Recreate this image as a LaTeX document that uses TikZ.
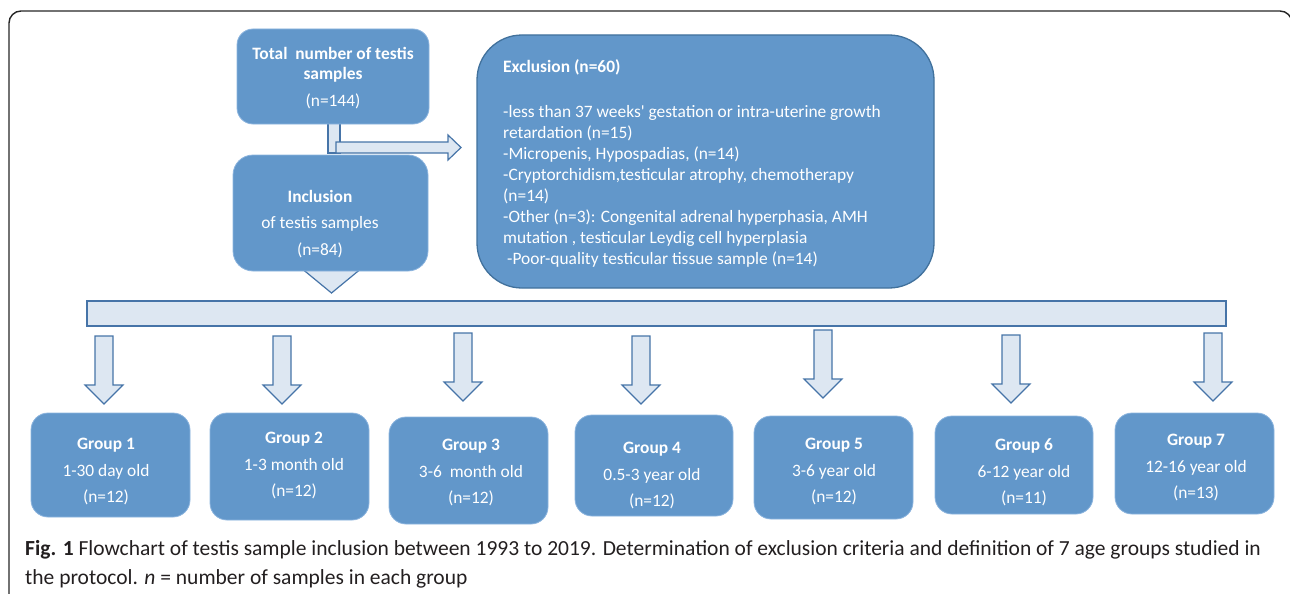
\documentclass[tikz,border=0pt]{standalone}
\usepackage{fontspec}
\newfontfamily\carl{Carlito}
\usetikzlibrary{backgrounds}
\definecolor{boxblue}{RGB}{98,151,202}
\definecolor{boxline}{RGB}{140,180,222}
\definecolor{exedge}{RGB}{65,113,156}
\definecolor{arrfill}{RGB}{221,231,242}
\definecolor{arredge}{RGB}{70,116,168}
\definecolor{capcol}{RGB}{35,31,32}
\tikzset{
  bluebox/.style={fill=boxblue, draw=boxline, line width=0.8pt, inner sep=0pt},
  boxtext/.style={text=white, align=center, inner sep=0pt, font=\carl\fontsize{17.4}{26.5}\selectfont},
  arrowshape/.style={fill=arrfill, draw=arredge, line width=1.2pt, line join=miter},
  downarr/.pic={\draw[arrowshape] (-9,0) -- (9,0) -- (9,49) -- (19,49) -- (0,68) -- (-19,49) -- (-9,49) -- cycle;},
  captext/.style={text=capcol, inner sep=0pt, anchor=base west, font=\carl\fontsize{21.5}{29}\selectfont}
}
\begin{document}
\begin{tikzpicture}[x=1pt,y=-1pt]
\useasboundingbox (0,0) rectangle (1290,594);
\begin{scope}
\clip (0,0) rectangle (1290,594);
\draw[line width=1.4pt, black!85, rounded corners=12pt] (9,11) rectangle (1292,650);
\end{scope}

% top boxes
\node[bluebox, rounded corners=16pt, minimum width=192pt, minimum height=95pt] (total) at (333,76.5) {};
\node[boxtext, font=\carl\fontsize{17.4}{20}\selectfont] (totalt) at (333,78) {\textbf{Total\ \ number of testis}\\\textbf{samples}\\[7pt](n=144)};

\node[bluebox, rounded corners=20pt, minimum width=195pt, minimum height=116pt] (incl) at (330.5,213) {};
\node[boxtext] (inclt) at (320,224) {\textbf{Inclusion}\\of testis samples\\(n=84)};

\node[bluebox, draw=exedge, line width=1.3pt, rounded corners=45pt, minimum width=457pt, minimum height=253pt] (excl) at (705.5,161.5) {};
\node[text=white, inner sep=0pt, anchor=base west, font=\carl\bfseries\fontsize{17.4}{21}\selectfont] (exclt) at (503,73) {Exclusion (n=60)};
\node[text=white, inner sep=0pt, anchor=north west, align=left, font=\carl\fontsize{17.4}{21}\selectfont] (exclb) at (503,105) {-less than 37 weeks' gestation or intra-uterine growth\\retardation (n=15)\\-Micropenis, Hypospadias, (n=14)\\-Cryptorchidism,testicular atrophy, chemotherapy\\(n=14)\\-Other (n=3): Congenital adrenal hyperphasia, AMH\\mutation , testicular Leydig cell hyperplasia\\\hspace*{4pt}-Poor-quality testicular tissue sample (n=14)};

% distribution bar
\node[arrowshape, line width=1.2pt, minimum width=1139pt, minimum height=25pt, inner sep=0pt] (bar) at (656.5,313.5) {};

% group boxes
\node[bluebox, rounded corners=17pt, minimum width=159pt, minimum height=104pt] (g1) at (110.5,465) {};
\node[bluebox, rounded corners=17pt, minimum width=159pt, minimum height=107pt] (g2) at (289.5,466.5) {};
\node[bluebox, rounded corners=17pt, minimum width=159pt, minimum height=107pt] (g3) at (468.5,470.5) {};
\node[bluebox, rounded corners=17pt, minimum width=158pt, minimum height=101pt] (g4) at (654,465.5) {};
\node[bluebox, rounded corners=17pt, minimum width=159pt, minimum height=103pt] (g5) at (833.5,467.5) {};
\node[bluebox, rounded corners=17pt, minimum width=158pt, minimum height=98pt] (g6) at (1014,465) {};
\node[bluebox, rounded corners=17pt, minimum width=159pt, minimum height=101pt] (g7) at (1194.5,463.5) {};

\node[boxtext] (g1t) at (106,471.5) {\textbf{Group 1}\\1-30 day old\\(n=12)};
\node[boxtext] (g2t) at (294,465.5) {\textbf{Group 2}\\1-3 month old\\(n=12)};
\node[boxtext] (g3t) at (471,472.5) {\textbf{Group 3}\\3-6\ \ month old\\(n=12)};
\node[boxtext] (g4t) at (652,475.5) {\textbf{Group 4}\\0.5-3 year old\\(n=12)};
\node[boxtext] (g5t) at (834,471.5) {\textbf{Group 5}\\3-6 year old\\(n=12)};
\node[boxtext] (g6t) at (1024,472.5) {\textbf{Group 6}\\6-12 year old\\(n=11)};
\node[boxtext] (g7t) at (1196,467.5) {\textbf{Group 7}\\12-16 year old\\(n=13)};

% connectors (behind the boxes)
\begin{scope}[on background layer]
\draw[arrowshape] (328,118) rectangle (340,153);
\draw[arrowshape] (336,142) -- (448,142) -- (448,135) -- (461,147.5) -- (448,160) -- (448,153) -- (336,153) -- cycle;
\draw[arrowshape] (298.7,266) -- (331.5,293) -- (364.3,266) -- cycle;
\end{scope}
\pic at (104,336) {downarr};
\pic at (282,336) {downarr};
\pic at (463,333) {downarr};
\pic at (641,336) {downarr};
\pic at (823,330) {downarr};
\pic at (1011,335) {downarr};
\pic at (1213,333) {downarr};

% caption
\node[captext] (cap1) at (25,555) {\textbf{Fig. 1} Flowchart of testis sample inclusion between 1993 to 2019. Determination of exclusion criteria and definition of 7 age groups studied in};
\node[captext] (cap2) at (25,584) {the protocol. \textit{n} = number of samples in each group};
\end{tikzpicture}
\end{document}
